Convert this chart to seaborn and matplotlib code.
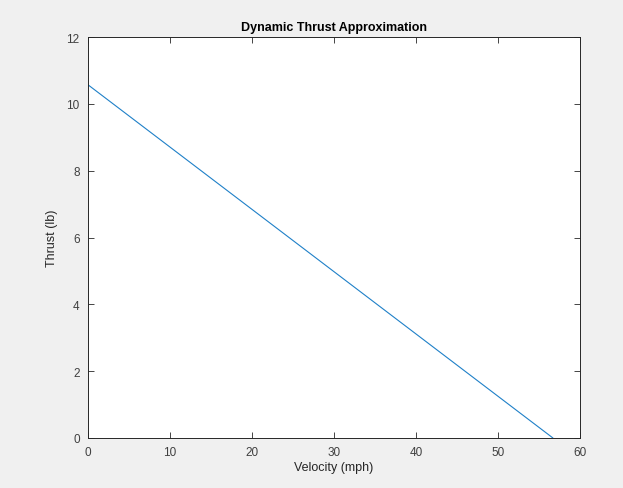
import matplotlib
matplotlib.use('Agg')
import matplotlib.pyplot as plt
import seaborn as sns

velocity = [0, 56.7]
thrust = [10.57, 0]

sns.set_style('white')
plt.rcParams['font.family'] = ['Liberation Sans', 'DejaVu Sans']

fig = plt.figure(figsize=(6.23, 4.89), dpi=100, facecolor='#f0f0f0')
ax = fig.add_axes([88 / 623, 50 / 489, 492 / 623, 401 / 489])
ax.set_facecolor('white')

sns.lineplot(x=velocity, y=thrust, ax=ax, color='#1f80c8', linewidth=0.8)

ax.set_xlim(0, 60)
ax.set_ylim(0, 12)
ax.set_xticks(range(0, 61, 10))
ax.set_yticks(range(0, 13, 2))
ax.tick_params(direction='in', length=4, width=0.6, color='#262626',
               labelcolor='#404040', labelsize=8.5, top=True, right=True,
               bottom=True, left=True, pad=6)
for s in ax.spines.values():
    s.set_color('#262626')
    s.set_linewidth(0.7)

ax.set_xlabel('Velocity (mph)', fontsize=9, color='#262626', labelpad=2)
ax.set_ylabel('Thrust (lb)', fontsize=9, color='#262626', labelpad=6)
ax.set_title('Dynamic Thrust Approximation', fontsize=9, fontweight='bold',
             color='#000000', pad=5)

fig.savefig('out.png', dpi=100, facecolor=fig.get_facecolor())
